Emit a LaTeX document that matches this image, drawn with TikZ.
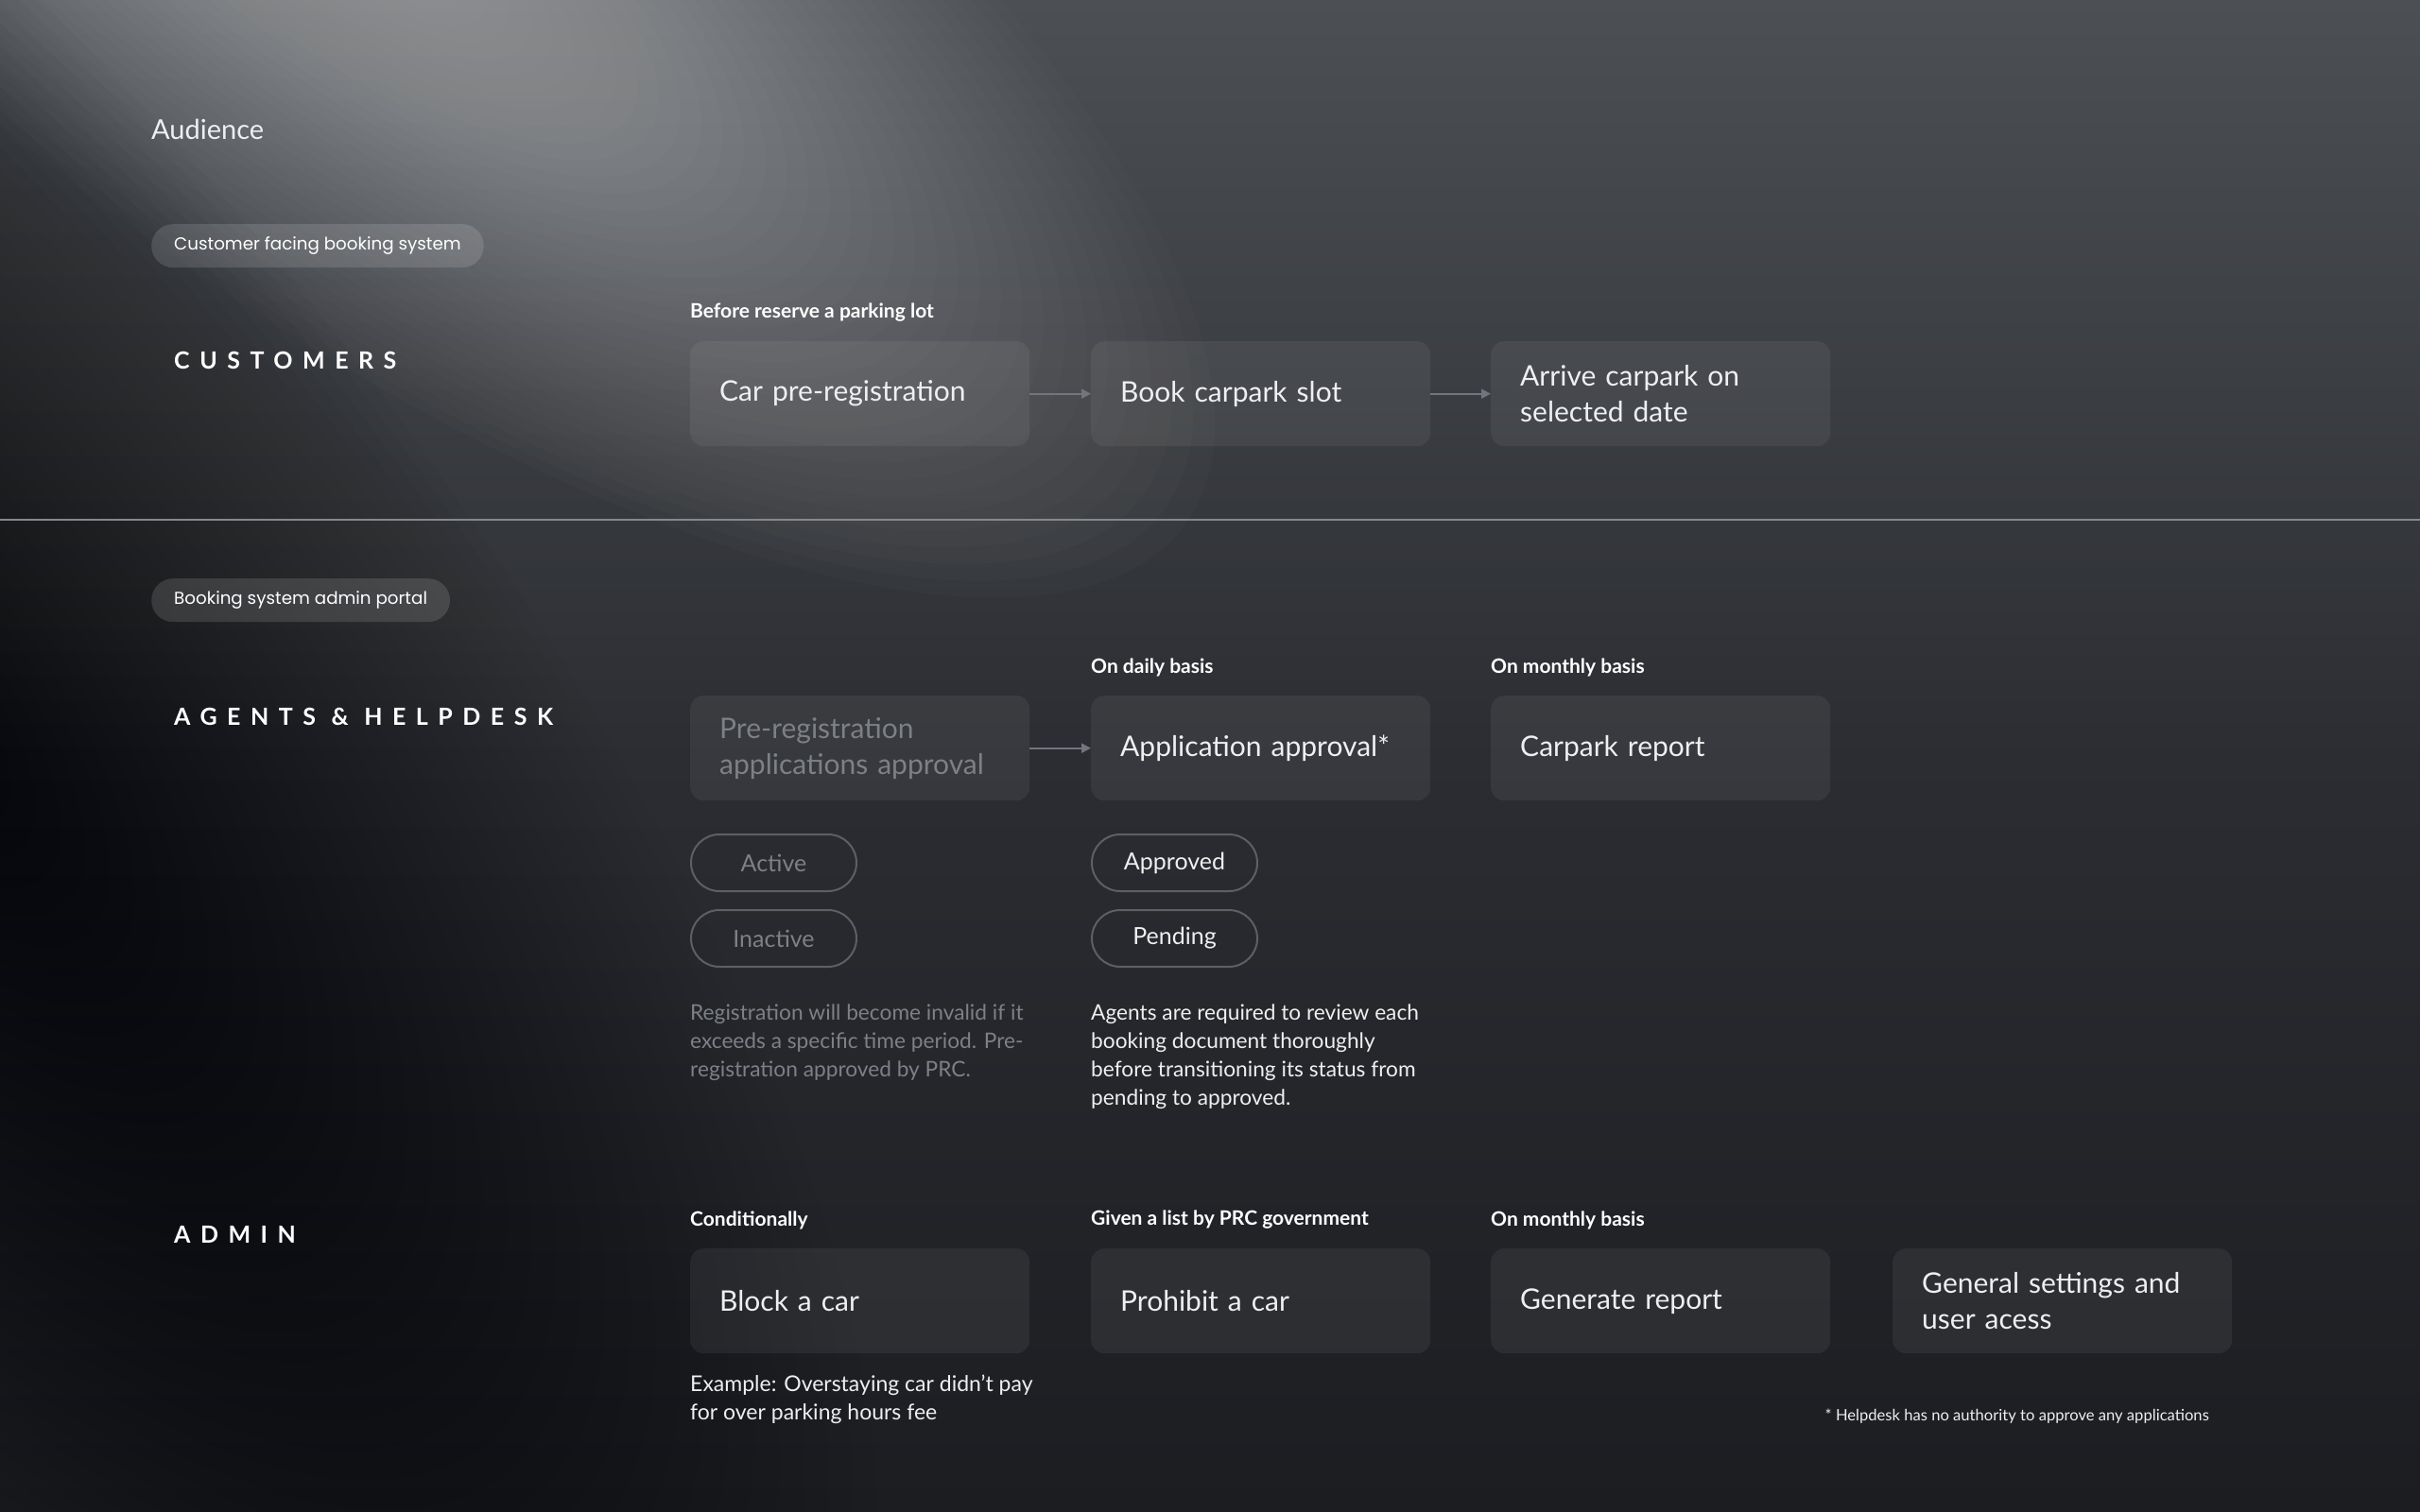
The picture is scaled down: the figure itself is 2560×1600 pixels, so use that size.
\documentclass[tikz,border=0pt]{standalone}
\usepackage{fontspec}
\setmainfont{Lato}
\newfontfamily\pillfont{Poppins}
\newfontfamily\trackfont[LetterSpace=42]{Lato}
\usetikzlibrary{arrows.meta}

\definecolor{bgtop}{HTML}{4C4F54}
\definecolor{bgmid}{HTML}{2B2D32}
\definecolor{bgbot}{HTML}{1B1D21}
\definecolor{boxtext}{HTML}{EEEFF0}
\definecolor{dimtext}{HTML}{7D8085}
\definecolor{rim}{HTML}{5C5F64}
\definecolor{arrowgray}{HTML}{72757B}
\definecolor{rulegray}{HTML}{85888D}

\tikzset{
  stepbox/.style={rectangle,rounded corners=14,fill=white,fill opacity=0.06,text opacity=1,
    text=boxtext,anchor=north west,minimum width=359,minimum height=111,text width=297,
    inner xsep=31,inner ysep=0,align=left,font=\fontsize{30}{38}\selectfont},
  statuspill/.style={rectangle,rounded corners=30,draw=rim,line width=2,anchor=north west,
    minimum width=175,minimum height=60,inner sep=0,text=boxtext,font=\fontsize{25}{30}\selectfont},
  sectionpill/.style={rectangle,rounded corners=23,fill=white,fill opacity=0.13,text opacity=1,
    anchor=north west,minimum height=46,inner xsep=24,inner ysep=0,text=white,
    font=\pillfont\fontsize{18.3}{22}\selectfont},
  steplabel/.style={anchor=west,inner sep=0,text=white,font=\bfseries\fontsize{21}{24}\selectfont},
  rowtitle/.style={anchor=west,inner sep=0,text=white,font=\trackfont\bfseries\fontsize{25}{30}\selectfont},
  note/.style={anchor=north west,inner sep=0,align=left,text=boxtext,font=\fontsize{22.7}{30}\selectfont}
}

\begin{document}
\begin{tikzpicture}[x=1pt,y=-1pt]
  \useasboundingbox (0,0) rectangle (2560,1600);
  % background: base, light beam, dark left side
  \begin{scope}
    \clip (0,0) rectangle (2560,1600);
    \shade[top color=bgtop,bottom color=bgbot,middle color=bgmid] (0,0) rectangle (2560,1600);
    \foreach \k in {1,...,40}
      \fill[white,fill opacity=0.015,rotate around={-36:(380,-80)}]
        (380,-80) ellipse [x radius={27*\k},y radius={10*\k}];
    \foreach \k in {1,...,40}
      \fill[black,fill opacity=0.02,rotate around={-52:(-120,720)}]
        (-120,720) ellipse [x radius={38*\k},y radius={15*\k}];
  \end{scope}
  \draw[rulegray,line width=1.5] (0,550) -- (2560,550);

  \node[anchor=west,inner sep=0,text=boxtext,font=\fontsize{29}{34}\selectfont] (audience) at (160,137) {Audience};
  \node[sectionpill] (custsys) at (160,237) {Customer facing booking system};
  \node[sectionpill] (adminsys) at (160,612) {Booking system admin portal};

  \begin{scope}[every node/.style={rowtitle}]
    \node (customers) at (184,381) {CUSTOMERS};
    \node (agents) at (184,758) {AGENTS \& HELPDESK};
    \node (admin) at (184,1306) {ADMIN};
  \end{scope}

  \begin{scope}[every node/.style={steplabel}]
    \node (beforelbl) at (730,331) {Before reserve a parking lot};
    \node (dailylbl) at (1154,706) {On daily basis};
    \node (monthlylbl) at (1577,706) {On monthly basis};
    \node (condlbl) at (730,1291) {Conditionally};
    \node (listlbl) at (1154,1291) {Given a list by PRC government};
    \node (monthlylbltwo) at (1577,1291) {On monthly basis};
  \end{scope}

  \begin{scope}[every node/.style={stepbox}]
    \node (car) at (730,361) {Car pre-registration};
    \node (book) at (1154,361) {Book carpark slot};
    \node (arrive) at (1577,361) {Arrive carpark on\\selected date};
    \node[text=dimtext] (prereg) at (730,736) {Pre-registration\\applications approval};
    \node (approval) at (1154,736) {Application approval*};
    \node (report) at (1577,736) {Carpark report};
    \node (block) at (730,1321) {Block a car};
    \node (prohibit) at (1154,1321) {Prohibit a car};
    \node (generate) at (1577,1321) {Generate report};
    \node (settings) at (2002,1321) {General settings and\\user acess};
  \end{scope}

  \begin{scope}[every node/.style={statuspill}]
    \node[text=dimtext] (active) at (730,882) {Active};
    \node[text=dimtext] (inactive) at (730,962) {Inactive};
    \node (approved) at (1154,882) {Approved};
    \node (pending) at (1154,962) {Pending};
  \end{scope}

  \node[note,text=dimtext] (expiry) at (730,1063) {Registration will become invalid if it\\exceeds a specific time period. Pre-\\registration approved by PRC.};
  \node[note] (review) at (1154,1063) {Agents are required to review each\\booking document thoroughly\\before transitioning its status from\\pending to approved.};
  \node[note,font=\fontsize{23}{30}\selectfont] (example) at (730,1455) {Example: Overstaying car didn't pay\\for over parking hours fee};
  \node[anchor=base east,inner sep=0,text=boxtext,font=\fontsize{16.6}{20}\selectfont] (footnote) at (2337,1503) {* Helpdesk has no authority to approve any applications};

  \begin{scope}[every edge/.style={draw=arrowgray,line width=2,-{Triangle[length=10,width=10]}}]
    \path (car) edge (book);
    \path (book) edge (arrive);
    \path (prereg) edge (approval);
  \end{scope}
\end{tikzpicture}
\end{document}
